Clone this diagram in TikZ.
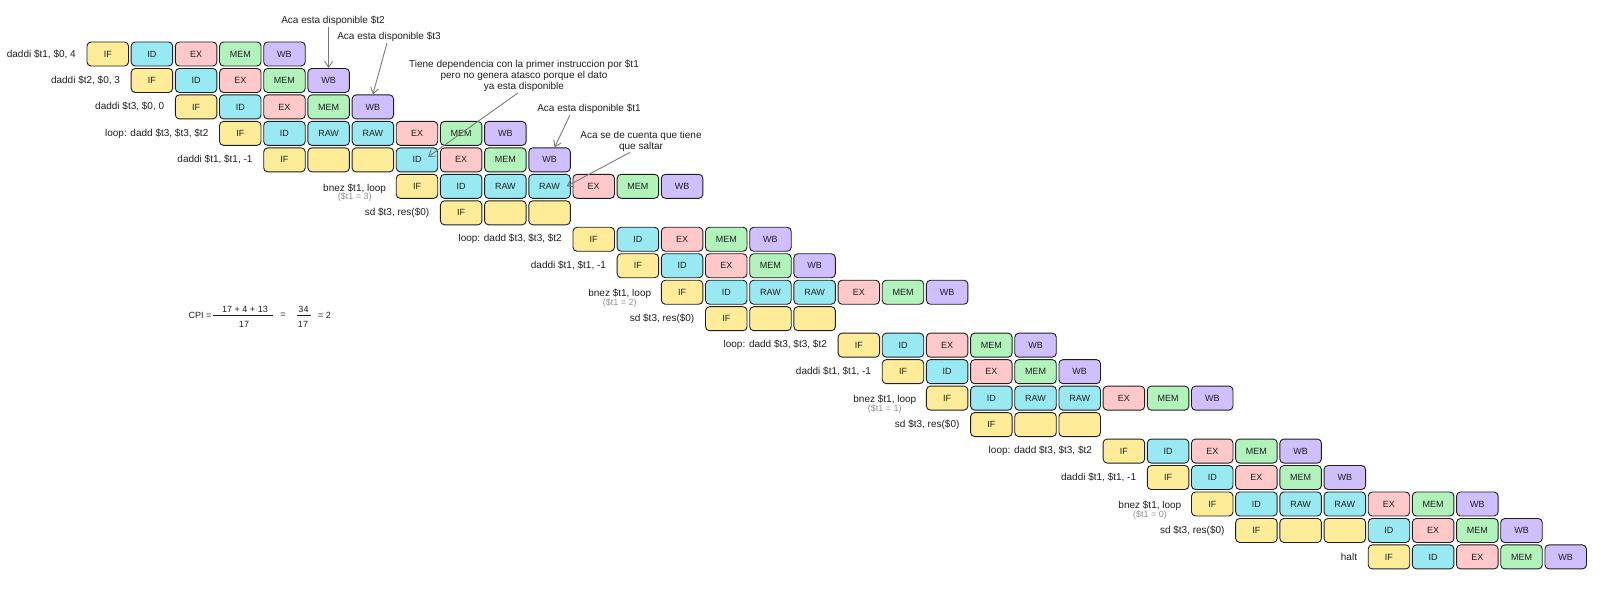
\documentclass[tikz,border=0pt]{standalone}
\usepackage{fontspec}
\setmainfont{Liberation Sans}
\usetikzlibrary{arrows.meta}
\definecolor{cIF}{HTML}{FFEC99}
\definecolor{cID}{HTML}{99E9F2}
\definecolor{cEX}{HTML}{FFC9C9}
\definecolor{cMEM}{HTML}{B2F2BB}
\definecolor{cWB}{HTML}{D0BFFF}
\definecolor{ink}{HTML}{1E1E1E}
\definecolor{subgray}{HTML}{909090}
\definecolor{arrgray}{HTML}{7A7A7A}
\def\Nrm{cIF/IF,cID/ID,cEX/EX,cMEM/MEM,cWB/WB}
\def\Rrow{cIF/IF,cID/ID,cID/RAW,cID/RAW,cEX/EX,cMEM/MEM,cWB/WB}
\def\Srow{cIF/IF,cIF/{},cIF/{},cID/ID,cEX/EX,cMEM/MEM,cWB/WB}
\def\Short{cIF/IF,cIF/{},cIF/{}}
\newcommand\pipeRow[3]{%
  \foreach \s/\t [count=\i from 0] in #3 {%
    \pgfmathtruncatemacro\cc{#2+\i}%
    \node[box, fill=\s] (r#1c\cc) at ({107.75+44.18*\cc},{54+26.47*#1}) {\t};
  }%
}
\begin{document}
\begin{tikzpicture}[x=1pt,y=-1pt,
  box/.style={draw=ink, line width=0.9pt, rounded corners=4pt,
    minimum width=41.5pt, minimum height=24pt, inner sep=0pt,
    text=ink, font=\fontsize{9}{10}\selectfont},
  lbl/.style={text=ink, inner sep=1pt, font=\fontsize{10}{11}\selectfont},
  sub/.style={text=subgray, inner sep=1pt, font=\fontsize{9}{10}\selectfont},
  note/.style={text=ink, inner sep=1pt, align=center, font=\fontsize{10}{11}\selectfont},
  frm/.style={text=ink, inner sep=0pt, font=\fontsize{9}{10}\selectfont},
  arr/.style={draw=arrgray, line width=0.9pt, -{Straight Barb[length=6pt,width=8pt]}}]
\useasboundingbox (0,0) rectangle (1600,593);

% pipeline rows
\pipeRow{0}{0}{\Nrm}
\pipeRow{1}{1}{\Nrm}
\pipeRow{2}{2}{\Nrm}
\pipeRow{3}{3}{\Rrow}
\pipeRow{4}{4}{\Srow}
\pipeRow{5}{7}{\Rrow}
\pipeRow{6}{8}{\Short}
\pipeRow{7}{11}{\Nrm}
\pipeRow{8}{12}{\Nrm}
\pipeRow{9}{13}{\Rrow}
\pipeRow{10}{14}{\Short}
\pipeRow{11}{17}{\Nrm}
\pipeRow{12}{18}{\Nrm}
\pipeRow{13}{19}{\Rrow}
\pipeRow{14}{20}{\Short}
\pipeRow{15}{23}{\Nrm}
\pipeRow{16}{24}{\Nrm}
\pipeRow{17}{25}{\Rrow}
\pipeRow{18}{26}{\Srow}
\pipeRow{19}{29}{\Nrm}

% instruction labels
\foreach \r/\c/\txt in {0/0/{daddi \$t1, \$0, 4}, 1/1/{daddi \$t2, \$0, 3}, 2/2/{daddi \$t3, \$0, 0},
  3/3/{loop: dadd \$t3, \$t3, \$t2}, 4/4/{daddi \$t1, \$t1, -1}, 6/8/{sd \$t3, res(\$0)},
  7/11/{loop: dadd \$t3, \$t3, \$t2}, 8/12/{daddi \$t1, \$t1, -1}, 10/14/{sd \$t3, res(\$0)},
  11/17/{loop: dadd \$t3, \$t3, \$t2}, 12/18/{daddi \$t1, \$t1, -1}, 14/20/{sd \$t3, res(\$0)},
  15/23/{loop: dadd \$t3, \$t3, \$t2}, 16/24/{daddi \$t1, \$t1, -1}, 18/26/{sd \$t3, res(\$0)},
  19/29/{halt}} {
  \node[lbl, anchor=east] (l\r) at ({77+44.18*\c},{54+26.47*\r}) {\txt};
}
\foreach \r/\c/\v in {5/7/3, 9/13/2, 13/19/1, 17/25/0} {
  \node[lbl, anchor=east] (l\r) at ({78+44.18*\c},{56+26.47*\r}) {bnez \$t1, loop};
  \node[sub] (s\r) at ([yshift=-9pt]l\r.center) {(\$t1 = \v)};
}

% annotations
\node[note] (a1) at (333,21) {Aca esta disponible \$t2};
\node[note] (a2) at (389,37) {Aca esta disponible \$t3};
\node[note] (a3) at (524,76) {Tiene dependencia con la primer instruccion por \$t1\\pero no genera atasco porque el dato\\ya esta disponible};
\node[note] (a4) at (589,109) {Aca esta disponible \$t1};
\node[note] (a5) at (641,141) {Aca se de cuenta que tiene\\que saltar};

\coordinate (t3) at ([xshift=11pt,yshift=3pt]r4c7.center);
\coordinate (t5) at ([xshift=17pt]r5c10.center);
\draw[arr] (r1c5.north |- a1.south) -- (r1c5.north);
\draw[arr] ([xshift=-2pt]a2.south) -- (r2c6.north);
\draw[arr] ([xshift=-6pt]a3.south) -- (t3);
\draw[arr] ([xshift=-19pt]a4.south) -- ([xshift=5pt]r4c10.north);
\draw[arr] ([xshift=-11pt]a5.south) -- (t5);

% CPI formula
\node[frm] (f0) at (200,315) {CPI =};
\node[frm] (f1n) at (245,309) {17 + 4 + 13};
\node[frm] (f1d) at (244,324) {17};
\draw[ink, line width=0.6pt] (213,315) -- (273,315);
\node[frm] (f2) at (283,315) {=};
\node[frm] (f3n) at (303.5,309) {34};
\node[frm] (f3d) at (303,324) {17};
\draw[ink, line width=0.6pt] (297,315) -- (311,315);
\node[frm] (f4) at (324.5,315) {= 2};
\end{tikzpicture}
\end{document}
